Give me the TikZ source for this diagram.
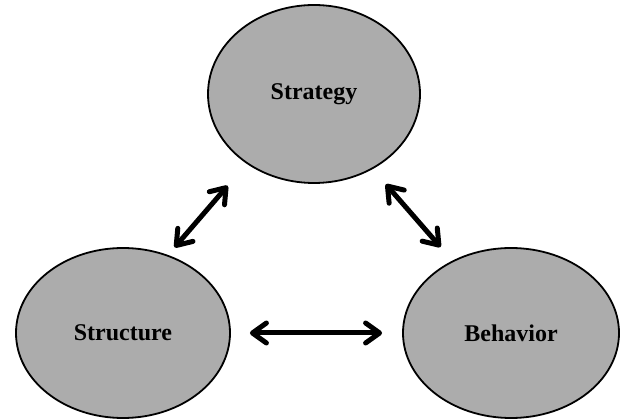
\documentclass[tikz,border=0pt]{standalone}
\usepackage{fontspec}
\setmainfont{Liberation Serif}
\usetikzlibrary{shapes.geometric,arrows.meta}
\definecolor{ellgray}{RGB}{172,172,172}
\tikzset{
  ell/.style={ellipse, draw=black, line width=1.8pt, fill=ellgray, inner sep=0pt,
    font=\fontsize{24}{29}\selectfont\bfseries},
  dbl/.style={line width=5pt, line cap=round,
    {Straight Barb[length=14pt,width=20pt,line cap=round,line join=round]}-{Straight Barb[length=14pt,width=20pt,line cap=round,line join=round]}}
}
\begin{document}
\begin{tikzpicture}[x=1pt,y=-1pt]
\useasboundingbox (0,0) rectangle (621,419);
\node[ell, minimum width=212pt, minimum height=178pt] (strat) at (314,94) {Strategy};
\node[ell, minimum width=214pt, minimum height=170pt] (struct) at (123,333) {Structure};
\node[ell, minimum width=216pt, minimum height=170pt] (behav) at (511,333) {Behavior};
\draw[dbl, shorten <=29pt, shorten >=10pt] (strat.226) -- (struct.60);
\draw[dbl, shorten <=20pt, shorten >=18pt] (strat.308) -- (behav.129);
\draw[dbl, shorten <=19pt, shorten >=20pt] (struct.east) -- (behav.west);
\end{tikzpicture}
\end{document}
